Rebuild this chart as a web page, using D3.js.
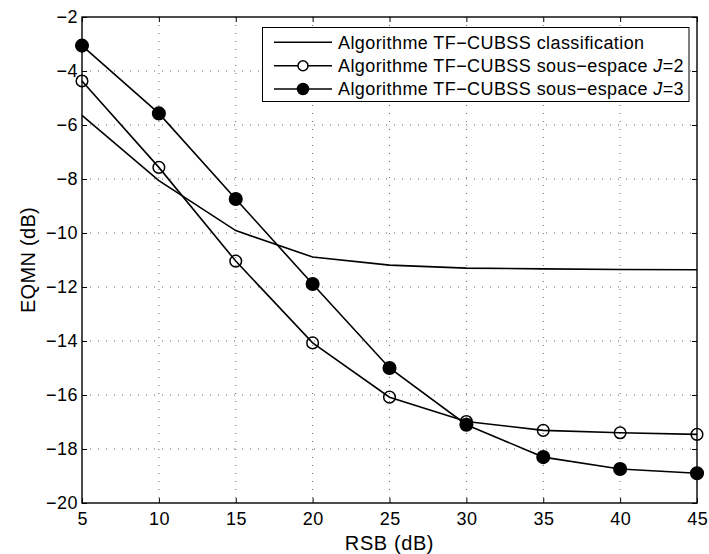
<!DOCTYPE html>
<html>
<head>
<meta charset="utf-8">
<script src="https://cdn.jsdelivr.net/npm/d3@7"></script>
<style>
  html, body { margin: 0; padding: 0; background: #fff; }
  text { font-family: "Liberation Sans", Arial, Helvetica, sans-serif; fill: #000; }
</style>
</head>
<body>
<svg id="chart" width="709" height="554"></svg>
<script>
// ---- data ----
const snr = [5, 10, 15, 20, 25, 30, 35, 40, 45];
const classification = [-5.64, -8.06, -9.91, -10.89, -11.19, -11.30, -11.33, -11.35, -11.36];
const sousEspaceJ2 = [-4.37, -7.57, -11.04, -14.07, -16.08, -16.98, -17.31, -17.40, -17.46];
const sousEspaceJ3 = [-3.06, -5.57, -8.74, -11.89, -15.00, -17.10, -18.30, -18.74, -18.90];
const xTicks = [5, 10, 15, 20, 25, 30, 35, 40, 45];
const yTicks = [-20, -18, -16, -14, -12, -10, -8, -6, -4, -2];
const seriesNames = [
  ["Algorithme TF\u2212CUBSS classification", null],
  ["Algorithme TF\u2212CUBSS sous\u2212espace ", "2"],
  ["Algorithme TF\u2212CUBSS sous\u2212espace ", "3"]
];
const xLabel = "RSB (dB)";
const yLabel = "EQMN (dB)";

// ---- layout ----
const L = 82, R = 697, T = 17, B = 503;
const svg = d3.select("#chart");
const x = d3.scaleLinear().domain([5, 45]).range([L, R]);
const y = d3.scaleLinear().domain([-20, -2]).range([B, T]);
const fmt = d => String(d).replace("-", "\u2212");

// grid
const grid = svg.append("g");
grid.selectAll(".gx").data(xTicks.slice(1, -1)).enter().append("line")
  .attr("x1", d => x(d)).attr("x2", d => x(d)).attr("y1", T).attr("y2", B)
  .attr("stroke", "#666").attr("stroke-width", 1).attr("stroke-dasharray", "1,7");
grid.selectAll(".gy").data(yTicks.slice(1, -1)).enter().append("line")
  .attr("y1", d => y(d)).attr("y2", d => y(d)).attr("x1", L).attr("x2", R)
  .attr("stroke", "#666").attr("stroke-width", 1).attr("stroke-dasharray", "1,7");

// axes (inward ticks on all sides)
const tl = 5;
const axB = svg.append("g").attr("transform", `translate(0,${B})`)
  .call(d3.axisBottom(x).tickValues(xTicks).tickSize(-tl).tickPadding(10).tickFormat(fmt));
const axT = svg.append("g").attr("transform", `translate(0,${T})`)
  .call(d3.axisTop(x).tickValues(xTicks).tickSize(-tl).tickFormat(""));
const axL = svg.append("g").attr("transform", `translate(${L},0)`)
  .call(d3.axisLeft(y).tickValues(yTicks).tickSize(-tl).tickPadding(4).tickFormat(fmt));
const axR = svg.append("g").attr("transform", `translate(${R},0)`)
  .call(d3.axisRight(y).tickValues(yTicks).tickSize(-tl).tickFormat(""));
[axB, axT, axL, axR].forEach(a => {
  a.select(".domain").remove();
  a.selectAll("line").attr("stroke", "#000").attr("stroke-width", 1);
  a.selectAll("text").attr("font-size", 18).attr("letter-spacing", 0.5)
    .attr("font-family", "Liberation Sans, Arial, sans-serif").attr("fill", "#000");
});
axB.selectAll("text").attr("dy", "0.68em").attr("dx", 0.25);
svg.append("rect").attr("x", L).attr("y", T).attr("width", R - L).attr("height", B - T)
  .attr("fill", "none").attr("stroke", "#000").attr("stroke-width", 1.4);

// axis labels
svg.append("text").attr("x", (L + R) / 2).attr("y", 550).attr("text-anchor", "middle")
  .attr("font-size", 20).attr("letter-spacing", 0.6).text(xLabel);
svg.append("text").attr("transform", `translate(35,${(T + B) / 2}) rotate(-90)`)
  .attr("text-anchor", "middle").attr("font-size", 20).attr("letter-spacing", 0.3).text(yLabel);

// series
const line = d3.line().x((d, i) => x(snr[i])).y(d => y(d));
const plot = svg.append("g");
const series = [
  { values: classification, marker: null },
  { values: sousEspaceJ2, marker: "open" },
  { values: sousEspaceJ3, marker: "filled" }
];
series.forEach(s => {
  plot.append("path").datum(s.values).attr("d", line)
    .attr("fill", "none").attr("stroke", "#000").attr("stroke-width", 1.6);
});
series.forEach(s => {
  if (!s.marker) return;
  plot.selectAll(null).data(s.values).enter().append("circle")
    .attr("cx", (d, i) => x(snr[i])).attr("cy", d => y(d))
    .attr("r", s.marker === "open" ? 5.8 : 6.3)
    .attr("fill", s.marker === "open" ? "#fff" : "#000")
    .attr("fill-opacity", s.marker === "open" ? 0 : 1)
    .attr("stroke", "#000").attr("stroke-width", 1.5);
});

// legend
const lg = svg.append("g");
lg.append("rect").attr("x", 262.5).attr("y", 27.5).attr("width", 426.5).attr("height", 74)
  .attr("fill", "#fff").attr("stroke", "#000").attr("stroke-width", 1);
const rowY = [42.3, 65.7, 89];
series.forEach((s, i) => {
  const yy = rowY[i];
  lg.append("line").attr("x1", 274).attr("x2", 332).attr("y1", yy).attr("y2", yy)
    .attr("stroke", "#000").attr("stroke-width", 1.6);
  if (s.marker) {
    lg.append("circle").attr("cx", 303).attr("cy", yy).attr("r", s.marker === "open" ? 5 : 5.5)
      .attr("fill", s.marker === "open" ? "#fff" : "#000").attr("stroke", "#000").attr("stroke-width", 1.5);
  }
  const t = lg.append("text").attr("x", 338).attr("y", yy).attr("dy", "0.36em")
    .attr("font-size", 18).attr("letter-spacing", 0.42);
  t.append("tspan").text(seriesNames[i][0]);
  if (seriesNames[i][1]) {
    t.append("tspan").attr("font-style", "italic").text("J");
    t.append("tspan").text("=" + seriesNames[i][1]);
  }
});
</script>
</body>
</html>
